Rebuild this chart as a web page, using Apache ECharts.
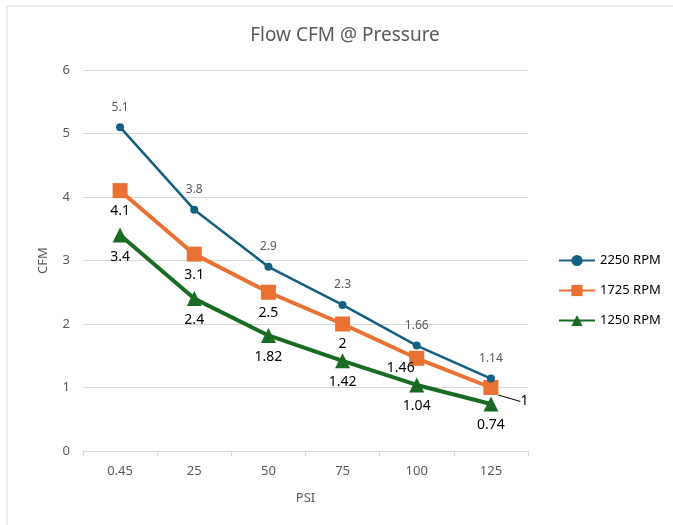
<!DOCTYPE html>
<html><head><meta charset="utf-8">
<script src="https://cdn.jsdelivr.net/npm/echarts@6/dist/echarts.min.js"></script>
<style>html,body{margin:0;padding:0;background:#fff}#c{width:673px;height:525px}</style>
</head><body><div id="c"></div>
<script>
const categories = ['0.45','25','50','75','100','125'];
const rpm2250 = [5.1, 3.8, 2.9, 2.3, 1.66, 1.14];
const rpm1725 = [4.1, 3.1, 2.5, 2, 1.46, 1];
const rpm1250 = [3.4, 2.4, 1.82, 1.42, 1.04, 0.74];
const seriesNames = ['2250 RPM','1725 RPM','1250 RPM'];
const FONT = '"Noto Sans", sans-serif';
const chart = echarts.init(document.getElementById('c'));
chart.setOption({
  animation:false,
  textStyle:{fontFamily:FONT},
  graphic:[{type:'rect',shape:{x:7,y:6,width:700,height:540},style:{fill:'none',stroke:'#d9d9d9',lineWidth:1}}],
  title:{text:'Flow CFM @ Pressure',left:340,top:21,textAlign:'center',textStyle:{fontFamily:FONT,fontSize:19,fontWeight:'normal',color:'#595959'}},
  grid:{left:83,right:145,top:70,bottom:74},
  legend:{orient:'vertical',left:553,top:249,itemGap:17,itemWidth:36,itemHeight:14,
    textStyle:{fontFamily:FONT,fontSize:13,color:'#000'},data:seriesNames},
  xAxis:{type:'category',data:categories,name:'PSI',nameLocation:'middle',nameGap:41,
    nameTextStyle:{fontFamily:FONT,fontSize:13,color:'#595959'},
    axisLine:{lineStyle:{color:'#d9d9d9'}},axisTick:{show:true,alignWithLabel:false,lineStyle:{color:'#d9d9d9'}},
    axisLabel:{fontFamily:FONT,fontSize:13,color:'#595959',margin:14}},
  yAxis:{type:'value',min:0,max:6,interval:1,name:'CFM',nameLocation:'middle',nameGap:33,
    nameTextStyle:{fontFamily:FONT,fontSize:13,color:'#595959'},
    axisLine:{show:false},axisTick:{show:false},
    splitLine:{lineStyle:{color:'#d9d9d9'}},
    axisLabel:{fontFamily:FONT,fontSize:13,color:'#595959',margin:13}},
  series:[
    {name:seriesNames[0],type:'line',data:rpm2250,symbol:'circle',symbolSize:8,z:3,
     itemStyle:{color:'#156082'},lineStyle:{width:2.5,color:'#156082'},
     label:{show:true,position:'top',distance:10,fontFamily:FONT,fontSize:12,color:'#595959'}},
    {name:seriesNames[1],type:'line',
     data:rpm1725.map((v,i)=> i===5 ? {value:v,labelLine:{show:true}} : v),
     symbol:'rect',symbolSize:15,z:2,
     itemStyle:{color:'#E97132'},lineStyle:{width:4,color:'#E97132'},
     label:{show:true,position:'bottom',distance:6,fontFamily:FONT,fontSize:14,color:'#000'},
     labelLine:{show:false,lineStyle:{color:'#000',width:1}},
     labelLayout:function(p){
       if(p.dataIndex===5){ return {x:p.rect.x+p.rect.width+22,y:p.rect.y+p.rect.height/2+14,align:'left',verticalAlign:'middle'}; }
       if(p.dataIndex===4){ return {dx:-16,dy:-11}; }
       return {}; }},
    {name:seriesNames[2],type:'line',data:rpm1250,symbol:'triangle',symbolSize:15,z:1,
     itemStyle:{color:'#196B24'},lineStyle:{width:4,color:'#196B24'},
     label:{show:true,position:'bottom',distance:7,fontFamily:FONT,fontSize:14,color:'#000'}}
  ]
});
</script></body></html>
